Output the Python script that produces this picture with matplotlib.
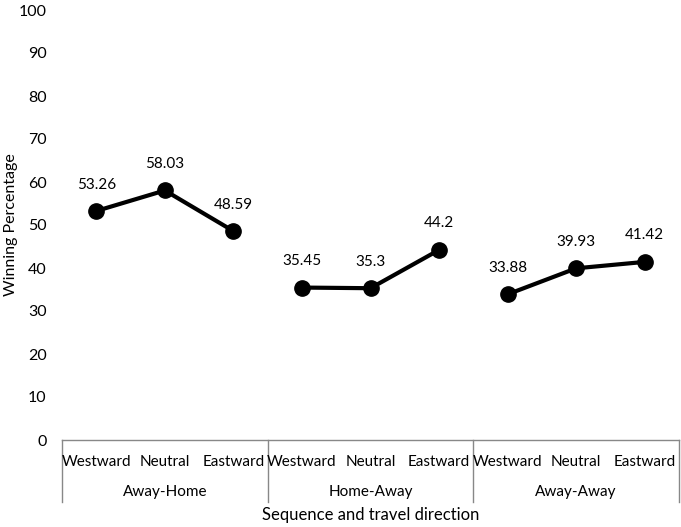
import matplotlib
matplotlib.use("Agg")
import matplotlib.pyplot as plt
import matplotlib.transforms as mtransforms

plt.rcParams['font.family'] = ['Lato', 'DejaVu Sans']

groups = ["Away-Home", "Home-Away", "Away-Away"]
directions = ["Westward", "Neutral", "Eastward"]
values = {
    "Away-Home": [53.26, 58.03, 48.59],
    "Home-Away": [35.45, 35.3, 44.2],
    "Away-Away": [33.88, 39.93, 41.42],
}
labels = {
    "Away-Home": ["53.26", "58.03", "48.59"],
    "Home-Away": ["35.45", "35.3", "44.2"],
    "Away-Away": ["33.88", "39.93", "41.42"],
}
yticks = [0, 10, 20, 30, 40, 50, 60, 70, 80, 90, 100]

fig = plt.figure(figsize=(6.81, 5.27), dpi=100)
ax = fig.add_axes([62/681, 1-440/527, (679-62)/681, 430/527])

n = len(directions)
trans = mtransforms.blended_transform_factory(ax.transData, ax.transAxes)
for gi, g in enumerate(groups):
    xs = [gi*n + i for i in range(n)]
    ys = values[g]
    ax.plot(xs, ys, color='black', lw=3, marker='o', markersize=11, zorder=3)
    for i, (x, y, lab) in enumerate(zip(xs, ys, labels[g])):
        ax.annotate(lab, (x, y), xytext=(0, 14), textcoords='offset points',
                    ha='center', va='bottom', fontsize=11)
        ax.text(x, -0.051, directions[i], transform=trans,
                ha='center', va='center', fontsize=11)
    ax.text(gi*n + 1, -0.121, g, transform=trans, ha='center', va='center', fontsize=11)

for b in range(len(groups)+1):
    ax.plot([b*n - 0.5, b*n - 0.5], [0, -0.144], transform=trans, color='#888888',
            lw=1, clip_on=False)

ax.text(0.5, -0.175, "Sequence and travel direction", transform=ax.transAxes,
        ha='center', va='center', fontsize=12)

ax.set_xlim(-0.5, len(groups)*n - 0.5)
ax.set_ylim(0, 100)
ax.set_yticks(yticks)
ax.set_yticklabels([str(t) for t in yticks], fontsize=11.5)
ax.tick_params(axis='y', length=0, pad=11)
ax.set_xticks([])
for s in ['top', 'right', 'left']:
    ax.spines[s].set_visible(False)
ax.spines['bottom'].set_color('#888888')
ax.spines['bottom'].set_linewidth(1)
fig.text(11/681, 1-225/527, "Winning Percentage", rotation=90, ha='center', va='center',
         fontsize=11.5)

fig.savefig("out.png", dpi=100)
